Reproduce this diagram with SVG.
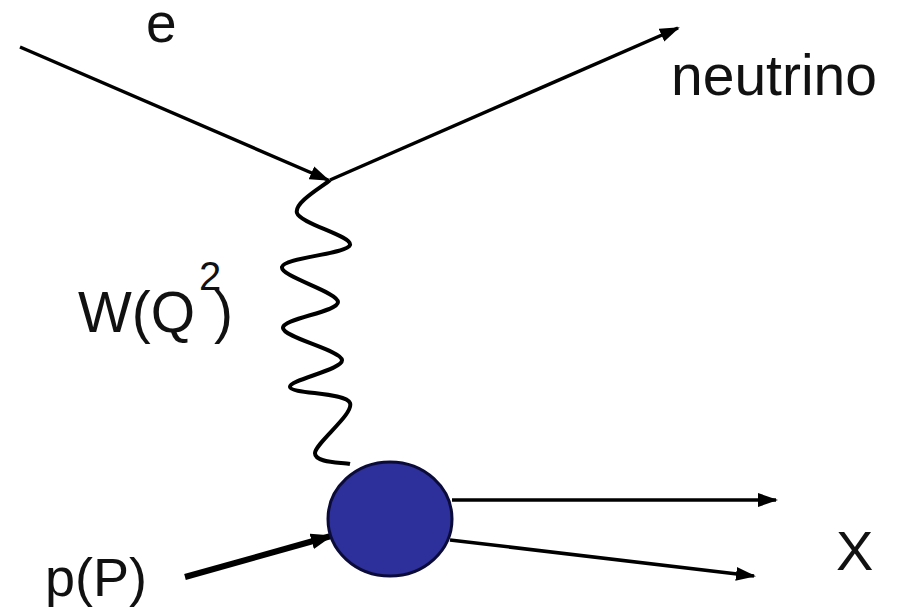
<svg xmlns="http://www.w3.org/2000/svg" width="907" height="609" viewBox="0 0 907 609">
  <style>
    .lbl { font-family: "Liberation Sans", Arial, sans-serif; fill: #111; }
    .ln { stroke: #000; stroke-width: 3.5; fill: none; stroke-linecap: butt; }
  </style>
  <defs>
    <marker id="ah" markerUnits="userSpaceOnUse" markerWidth="20" markerHeight="16" refX="18" refY="8" orient="auto">
      <path d="M0,1 L20,8 L0,15 z" fill="#000"/>
    </marker>
    <marker id="ahb" markerUnits="userSpaceOnUse" markerWidth="22" markerHeight="18" refX="20" refY="9" orient="auto">
      <path d="M0,1 L22,9 L0,17 z" fill="#000"/>
    </marker>
  </defs>
  <rect width="907" height="609" fill="#fff"/>

  <g id="connectors">
    <path id="e-line" class="ln" d="M20,47 L328,180" marker-end="url(#ah)"/>
    <path id="nu-line" class="ln" d="M330,180 L678,28" marker-end="url(#ah)"/>
    <path id="w-boson" class="ln" style="stroke-width:4" stroke-linejoin="round" d="M330,180 C324.5,185.5 293.67,202.17 297,213 C300.33,223.83 352.5,236 350,245 C347.5,254 284,257.5 282,267 C280,276.5 337.83,291.83 338,302 C338.17,312.17 282.33,318.33 283,328 C283.67,337.67 340.83,350.17 342,360 C343.17,369.83 288.67,379.83 290,387 C291.33,394.17 345.83,392 350,403 C354.17,414 315.5,442.83 315,453 C314.5,463.17 341.67,462.17 350,464"/>
    <path id="p-line" class="ln" style="stroke-width:6" d="M185,577 L331,536" marker-end="url(#ahb)"/>
    <path id="x1-line" class="ln" d="M452,500 L776,500" marker-end="url(#ah)"/>
    <path id="x2-line" class="ln" d="M450,540 L754,576" marker-end="url(#ah)"/>
  </g>

  <g id="blob">
    <ellipse cx="390" cy="519" rx="62" ry="57" fill="#2d2f9a" stroke="#0b0b3a" stroke-width="3"/>
  </g>

  <g id="label-e"><text class="lbl" x="146" y="42" font-size="55">e</text></g>
  <g id="label-neutrino"><text class="lbl" x="671" y="95" font-size="57">neutrino</text></g>
  <g id="label-W">
    <text class="lbl" font-size="57"><tspan x="78" y="332">W(Q</tspan><tspan x="199" y="290" font-size="40">2</tspan><tspan x="214" y="332">)</tspan></text>
  </g>
  <g id="label-p"><text class="lbl" x="45" y="596" font-size="54">p(P)</text></g>
  <g id="label-X"><text class="lbl" x="836" y="570" font-size="56">X</text></g>
</svg>
